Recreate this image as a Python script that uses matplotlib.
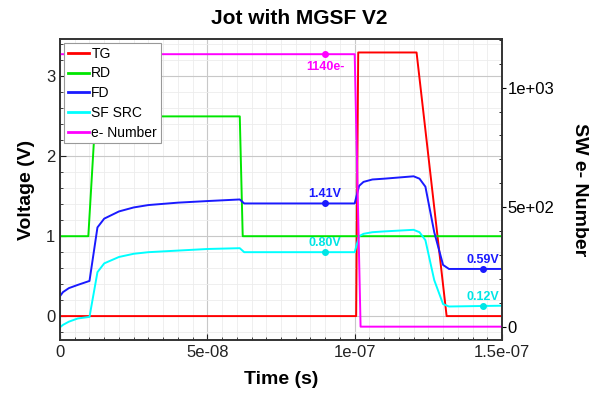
import numpy as np
import matplotlib.pyplot as plt
from matplotlib.ticker import MultipleLocator, FuncFormatter

plt.rcParams["font.family"] = ["Liberation Sans", "DejaVu Sans"]

# time samples (s) and values
tg_t = [0, 1.005e-7, 1.012e-7, 1.21e-7, 1.312e-7, 1.5e-7]
tg_v = [0, 0, 3.3, 3.3, 0, 0]

rd_t = [0, 0.96e-8, 1.2e-8, 6.1e-8, 6.2e-8, 1.5e-7]
rd_v = [1, 1, 2.5, 2.5, 1, 1]

fd_t = [0, 0.1e-8, 0.3e-8, 0.6e-8, 1.0e-8, 1.27e-8, 1.5e-8, 2.0e-8, 2.5e-8, 3.0e-8,
        4.0e-8, 5.0e-8, 6.1e-8, 6.25e-8, 1.0e-7, 1.015e-7, 1.03e-7, 1.06e-7, 1.1e-7,
        1.2e-7, 1.22e-7, 1.24e-7, 1.27e-7, 1.3e-7, 1.32e-7, 1.5e-7]
fd_v = [0.25, 0.30, 0.35, 0.39, 0.44, 1.11, 1.22, 1.31, 1.36, 1.39,
        1.42, 1.44, 1.46, 1.41, 1.41, 1.63, 1.68, 1.71, 1.72,
        1.75, 1.72, 1.62, 1.05, 0.64, 0.59, 0.59]

sf_t = [0, 0.1e-8, 0.3e-8, 0.6e-8, 1.0e-8, 1.27e-8, 1.5e-8, 2.0e-8, 2.5e-8, 3.0e-8,
        4.0e-8, 5.0e-8, 6.1e-8, 6.25e-8, 1.0e-7, 1.015e-7, 1.03e-7, 1.06e-7, 1.1e-7,
        1.2e-7, 1.22e-7, 1.24e-7, 1.27e-7, 1.3e-7, 1.32e-7, 1.5e-7]
sf_v = [-0.14, -0.11, -0.07, -0.03, -0.01, 0.55, 0.66, 0.74, 0.78, 0.80,
        0.82, 0.84, 0.85, 0.80, 0.80, 1.00, 1.03, 1.05, 1.06,
        1.08, 1.05, 0.95, 0.45, 0.15, 0.12, 0.13]

en_t = [0, 1.0e-7, 1.02e-7, 1.5e-7]
en_v = [1140, 1140, 0, 0]

# marker annotations
mark_t = 0.9e-7
end_t = 1.434e-7

fig, ax = plt.subplots(figsize=(5.92, 4.01), dpi=100)
fig.subplots_adjust(left=0.1014, right=0.848, bottom=0.152, top=0.903)
ax2 = ax.twinx()

lw = 1.4
l1, = ax.plot(tg_t, tg_v, color="#ff0000", lw=lw, label="TG")
l2, = ax.plot(rd_t, rd_v, color="#00e600", lw=lw, label="RD")
l3, = ax.plot(fd_t, fd_v, color="#1a1aff", lw=lw, label="FD")
l4, = ax.plot(sf_t, sf_v, color="#00ffff", lw=lw, label="SF SRC")
l5, = ax2.plot(en_t, en_v, color="#ff00ff", lw=lw, label="e- Number")

# dots and labels
lab = dict(fontsize=9, fontweight="bold", ha="center")
ax.plot([mark_t], [1.41], "o", color="#1a1aff", ms=4)
ax.text(mark_t, 1.45, "1.41V", color="#1a1aff", va="bottom", **lab)
ax.plot([mark_t], [0.80], "o", color="#00e5e5", ms=4)
ax.text(mark_t, 0.84, "0.80V", color="#00e5e5", va="bottom", **lab)
ax.plot([end_t], [0.59], "o", color="#1a1aff", ms=4)
ax.text(end_t, 0.63, "0.59V", color="#1a1aff", va="bottom", **lab)
ax.plot([end_t], [0.12], "o", color="#00e5e5", ms=4)
ax.text(end_t, 0.16, "0.12V", color="#00e5e5", va="bottom", **lab)
ax2.plot([mark_t], [1140], "o", color="#ff00ff", ms=4)
ax2.text(mark_t, 1110, "1140e-", color="#ff00ff", va="top", **lab)

ax.set_xlim(0, 1.5e-7)
ax.set_ylim(-0.3, 3.47)
ax2.set_ylim(-56, 1204)

ax.xaxis.set_major_locator(MultipleLocator(5e-8))
ax.xaxis.set_minor_locator(MultipleLocator(5e-9))
ax.yaxis.set_major_locator(MultipleLocator(1))
ax.yaxis.set_minor_locator(MultipleLocator(0.2))
ax2.yaxis.set_major_locator(MultipleLocator(500))
ax2.yaxis.set_minor_locator(MultipleLocator(100))

ax.xaxis.set_major_formatter(FuncFormatter(lambda v, p: "0" if v == 0 else f"{v:g}"))
ax2.yaxis.set_major_formatter(FuncFormatter(lambda v, p: "0" if v == 0 else f"{v:.0e}"))

ax.grid(True, which="major", color="#c8c8c8", lw=0.8)
ax.grid(True, which="minor", color="#ececec", lw=0.6)
ax.set_axisbelow(True)

ax.tick_params(axis="both", which="both", direction="in", labelsize=12, colors="#222222")
ax.tick_params(which="major", length=4)
ax.tick_params(which="minor", length=2)
ax2.tick_params(axis="y", which="major", direction="out", length=3, labelsize=12, pad=1)
ax2.tick_params(axis="y", which="minor", direction="in", length=2)

for a in (ax, ax2):
    for s in a.spines.values():
        s.set_linewidth(1.2)
        s.set_color("#333333")

fig.suptitle("Jot with MGSF V2", fontsize=15, fontweight="bold", x=0.505, y=0.955, va="center")
ax.set_xlabel("Time (s)", fontsize=14, fontweight="bold", labelpad=8)
ax.set_ylabel("Voltage (V)", fontsize=14, fontweight="bold", labelpad=8)
ax2.set_ylabel("SW e- Number", fontsize=14, fontweight="bold", rotation=270, labelpad=24)

leg = ax2.legend(handles=[l1, l2, l3, l4, l5], loc="upper left", fontsize=10,
                 fancybox=False, framealpha=1, edgecolor="#999999",
                 borderaxespad=0.3, handlelength=1.5, labelspacing=0.42, borderpad=0.25,
                 handletextpad=0.2)
leg.get_frame().set_linewidth(0.8)
for h in leg.get_lines():
    h.set_linewidth(2)

fig.savefig("out.png", dpi=100)
